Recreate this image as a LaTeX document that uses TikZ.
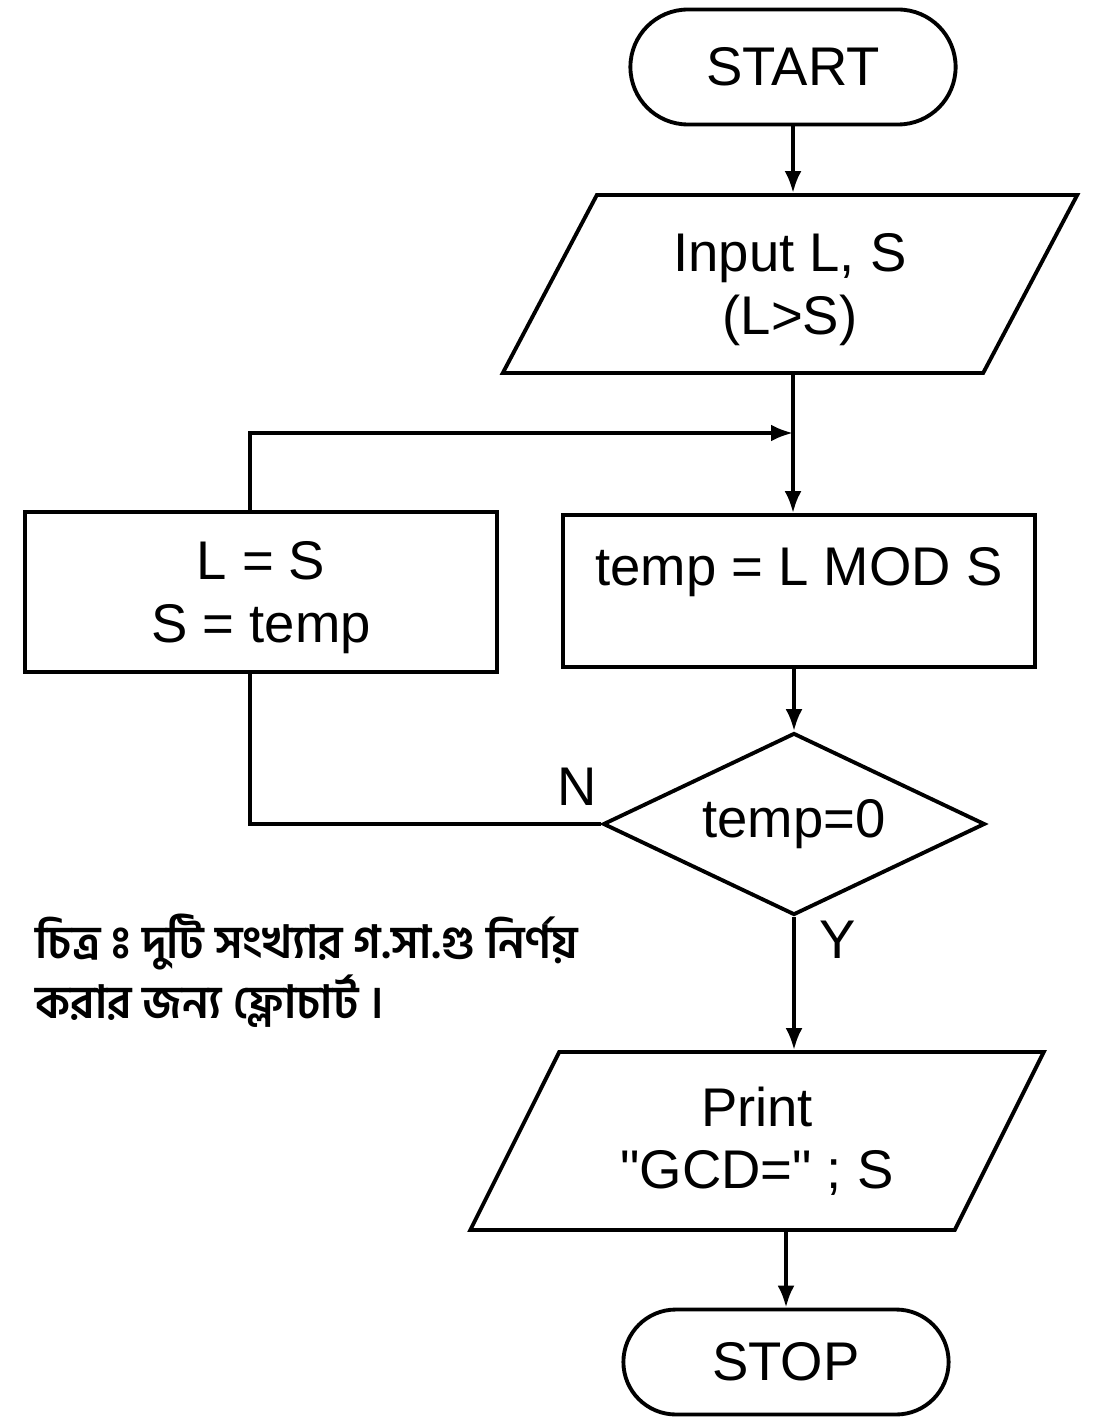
\documentclass[tikz,border=0pt]{standalone}
\usepackage{fontspec}
\setmainfont{Liberation Sans}
\newfontfamily\bnfont[Script=Bengali]{Hind Siliguri}
\newcommand\visarga{\XeTeXglyph\XeTeXcharglyph"0983\relax}
\usetikzlibrary{shapes.geometric, shapes.misc, arrows.meta, positioning}

\begin{document}
\begin{tikzpicture}[x=0.02cm, y=-0.02cm, line width=2.2pt, >={Latex[length=0.44cm, width=0.34cm]},
	every node/.style={font=\fontsize{31}{35.5}\selectfont},
	terminal/.style={draw, rounded rectangle, minimum width=6.74cm},
	io/.style={draw, trapezium, trapezium left angle=62, trapezium right angle=118, trapezium stretches=true, minimum width=11.5cm, minimum height=3.56cm, align=center},
	process/.style={draw, rectangle, minimum width=9.44cm},
	decision/.style={draw, diamond, aspect=2.1, inner sep=1pt, minimum width=7.64cm, minimum height=3.64cm}]
	\useasboundingbox (0, 0) rectangle (1106, 1422);
	\node[terminal, minimum height=2.3cm] (start) at (793, 67) {START};
	\node[io, text depth=-0.13cm] (input) at (790, 284) {Input L, S\\(L>S)};
	\node[process, minimum height=3.04cm, text depth=1cm] (calc) at (799, 591) {temp = L MOD S};
	\node[process, minimum height=3.2cm, align=center, text depth=-0.11cm] (upd) at (261, 592) {L = S\\S = temp};
	\node[decision] (test) at (794, 824) {temp=0};
	\node[io] (print) at (757, 1141) {Print\\\textquotedbl GCD=\textquotedbl{} ; S};
	\node[terminal, minimum height=2.1cm] (stop) at (786, 1362) {STOP};
	\node (no) at (577, 787) {N};
	\node (yes) at (838, 940) {Y};
	\node[anchor=north west, align=left, font=\bnfont\bfseries\fontsize{26}{34}\selectfont] (caption) at (28, 906) {চিত্র \visarga\ দুটি সংখ্যার গ.সা.গু নির্ণয়\\করার জন্য ফ্লোচার্ট ।};
	\coordinate (join) at (793, 433);
	\coordinate (bend) at (250, 822);
	\draw[->] (start.south) -- (start.south |- input.north);
	\draw[->] (join |- input.south) -- (join |- calc.north);
	\draw[->] (upd.north -| bend) |- (join);
	\draw[->] (test.north |- calc.south) -- (test.north);
	\draw (test.west) -| (upd.south -| bend);
	\draw[->] (test.south) -- (test.south |- print.north);
	\draw[->] (stop.north |- print.south) -- (stop.north);
\end{tikzpicture}
\end{document}
